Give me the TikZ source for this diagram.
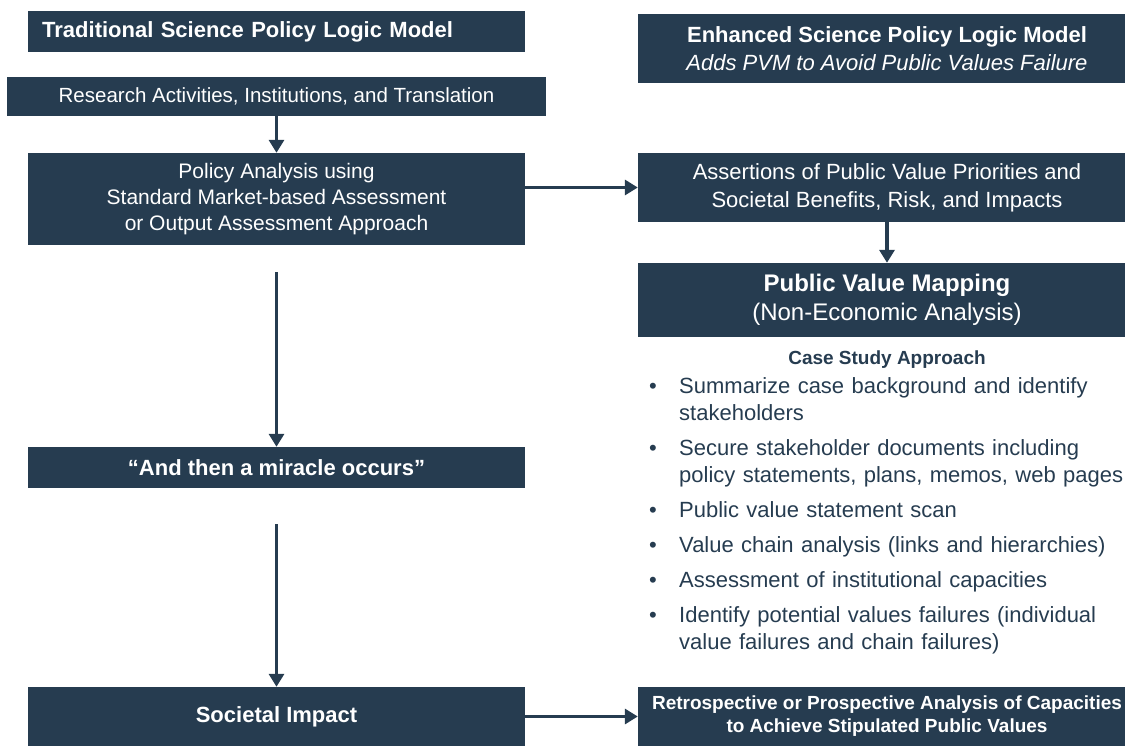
\documentclass[tikz,border=0pt]{standalone}
\usepackage{fontspec}
\setmainfont{Liberation Sans}
\usetikzlibrary{arrows.meta}

\definecolor{pvmnavy}{RGB}{38,60,80}

\newcommand{\casestep}[1]{\noindent\makebox[33pt][l]{\hspace{3pt}\textbullet}%
  \parbox[t]{445pt}{#1\par\xdef\casedepth{\the\prevdepth}}\par\prevdepth=\casedepth\relax}

\tikzset{
  box/.style={fill=pvmnavy, text=white, align=center, inner sep=0pt},
  flow/.style={draw=pvmnavy, line width=3.5pt, -{Triangle[length=13pt,width=15pt]}},
  midtext/.style={font=\fontsize{21}{26}\selectfont},
  bigtext/.style={font=\fontsize{22}{28}\selectfont},
  bigbold/.style={font=\fontsize{22}{28}\selectfont\bfseries},
}

\begin{document}
\begin{tikzpicture}[x=1pt, y=-1pt]
  \useasboundingbox (0,0) rectangle (1125,746);
  \clip (0,0) rectangle (1125,746);

  % traditional logic model (left column)
  \node[box, anchor=north west, minimum width=497pt, minimum height=41pt,
        text width=469pt, align=left, bigbold] (tradtitle) at (28,11)
        {Traditional Science Policy Logic Model};
  \node[box, minimum width=539pt, minimum height=39pt,
        font=\fontsize{20.5}{26}\selectfont] (research) at (276.5,96.5)
        {Research Activities, Institutions, and Translation};
  \node[box, minimum width=497pt, minimum height=92pt, midtext] (policy) at (276.5,199)
        {Policy Analysis using\\Standard Market-based Assessment\\or Output Assessment Approach};
  \node[box, minimum width=497pt, minimum height=41pt, bigbold] (miracle) at (276.5,467.5)
        {“And then a miracle occurs”};
  \node[box, minimum width=497pt, minimum height=59pt, bigbold] (societal) at (276.5,716.5)
        {Societal Impact};

  % enhanced logic model (right column)
  \node[box, minimum width=498pt, minimum height=69pt, bigtext] (enhanced) at (887,48.5)
        {\textbf{Enhanced Science Policy Logic Model}\\\textit{Adds PVM to Avoid Public Values Failure}};
  \node[box, minimum width=498pt, minimum height=69pt, bigtext] (assertions) at (887,187.5)
        {Assertions of Public Value Priorities and\\Societal Benefits, Risk, and Impacts};
  \node[box, minimum width=498pt, minimum height=74pt, font=\fontsize{24}{29}\selectfont] (pvm) at (887,300)
        {\textbf{Public Value Mapping}\\(Non-Economic Analysis)};
  \node[text=pvmnavy, font=\fontsize{19}{23}\selectfont\bfseries] (casetitle) at (887,360)
        {Case Study Approach};
  \node[anchor=base west, text width=480pt, align=left, inner sep=0pt, text=pvmnavy,
        font=\fontsize{22}{27}\selectfont] (steps) at (646,393)
        {\setlength{\parskip}{8pt}%
         \casestep{Summarize case background and identify\\stakeholders}
         \casestep{Secure stakeholder documents including\\policy statements, plans, memos, web pages}
         \casestep{Public value statement scan}
         \casestep{Value chain analysis (links and hierarchies)}
         \casestep{Assessment of institutional capacities}
         \casestep{Identify potential values failures (individual\\value failures and chain failures)}};
  \node[box, minimum width=498pt, minimum height=59pt, font=\fontsize{19}{23}\selectfont\bfseries] (retro) at (887,716.5)
        {Retrospective or Prospective Analysis of Capacities\\to Achieve Stipulated Public Values};

  \draw[flow] (research) -- (policy);
  \draw[flow, shorten <=27pt] (policy) -- (miracle);
  \draw[flow, shorten <=36pt] (miracle) -- (societal);
  \draw[flow] (policy.east |- assertions) -- (assertions);
  \draw[flow] (assertions) -- (pvm);
  \draw[flow] (societal) -- (retro);
\end{tikzpicture}
\end{document}
